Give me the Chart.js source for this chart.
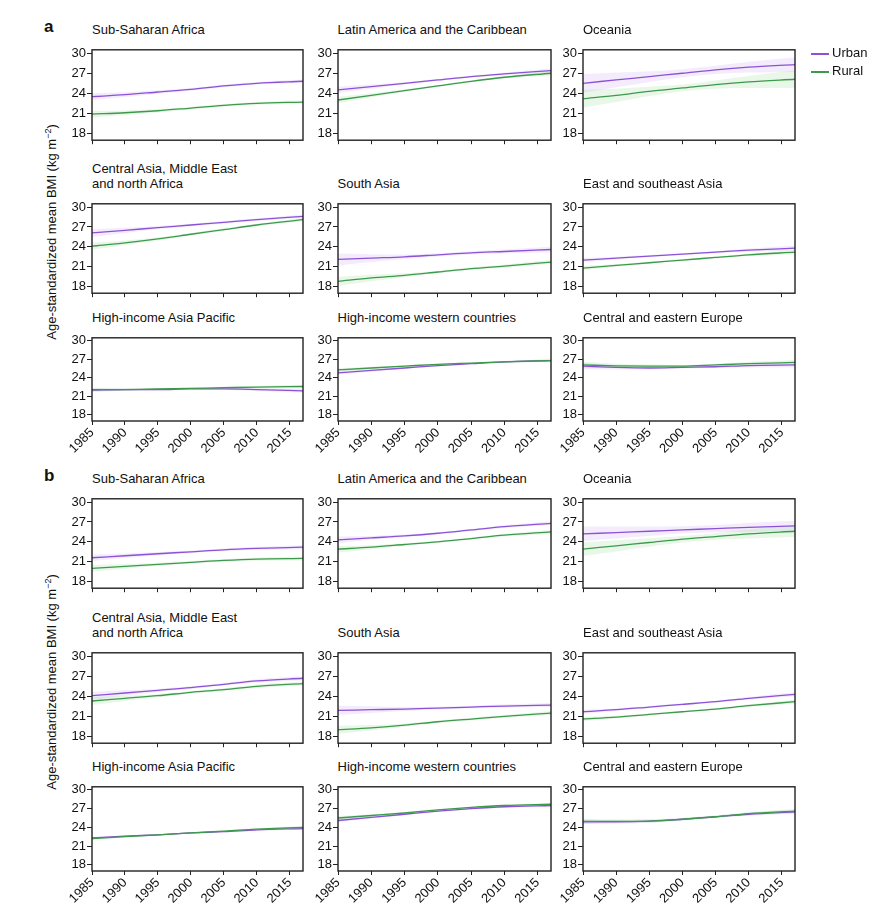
<!DOCTYPE html>
<html>
<head>
<meta charset="utf-8">
<script src="https://cdn.jsdelivr.net/npm/chart.js@4.4.0/dist/chart.umd.min.js"></script>
<style>
body { margin: 0; background: #fff; font-family: "Liberation Sans", Arial, sans-serif; color: #111; }
#wrap { position: relative; width: 887px; height: 909px; overflow: hidden; }
canvas { position: absolute; }
.ttl { position: absolute; font-size: 13px; line-height: 15px; white-space: pre; }
.letter { position: absolute; font-size: 17px; font-weight: bold; }
.ylab { position: absolute; font-size: 13px; white-space: nowrap; transform: translate(-50%, -50%) rotate(-90deg); }
.ylab sup { font-size: 9px; }
.leg { position: absolute; font-size: 13px; line-height: 16px; }
.leg span { display: inline-block; width: 18px; height: 0; border-top: 2px solid; vertical-align: middle; margin-right: 3px; }
</style>
</head>
<body>
<div id="wrap"></div>
<script>
var years = [1985, 1990, 1995, 2000, 2005, 2010, 2017];
var xTicks = [1985, 1990, 1995, 2000, 2005, 2010, 2015];
var yTicks = [18, 21, 24, 27, 30];
var regions = ["Sub-Saharan Africa", "Latin America and the Caribbean", "Oceania",
               "Central Asia, Middle East\nand north Africa", "South Asia", "East and southeast Asia",
               "High-income Asia Pacific", "High-income western countries", "Central and eastern Europe"];

// panel a
var urbanA = [
    [23.5, 23.8, 24.2, 24.6, 25.1, 25.5, 25.8],
    [24.5, 25.0, 25.5, 26.0, 26.5, 26.9, 27.4],
    [25.5, 26.0, 26.5, 27.0, 27.5, 27.9, 28.3],
    [26.1, 26.5, 26.9, 27.3, 27.7, 28.1, 28.6],
    [22.1, 22.3, 22.5, 22.8, 23.1, 23.3, 23.6],
    [22.0, 22.3, 22.6, 22.9, 23.2, 23.5, 23.8],
    [22.0, 22.1, 22.1, 22.2, 22.2, 22.1, 21.9],
    [24.8, 25.2, 25.6, 26.0, 26.3, 26.6, 26.8],
    [25.9, 25.7, 25.6, 25.7, 25.8, 26.0, 26.1]
];
var ruralA = [
    [20.9, 21.1, 21.4, 21.8, 22.2, 22.5, 22.7],
    [23.0, 23.7, 24.4, 25.1, 25.8, 26.4, 27.0],
    [23.2, 23.7, 24.3, 24.8, 25.3, 25.7, 26.1],
    [24.1, 24.6, 25.2, 25.9, 26.6, 27.3, 28.1],
    [18.8, 19.3, 19.7, 20.2, 20.7, 21.1, 21.7],
    [20.8, 21.2, 21.6, 22.0, 22.4, 22.8, 23.2],
    [22.1, 22.1, 22.2, 22.3, 22.4, 22.5, 22.6],
    [25.3, 25.6, 25.9, 26.2, 26.4, 26.6, 26.8],
    [26.1, 25.95, 25.9, 25.9, 26.1, 26.3, 26.5]
];
var urbanCiA = [
    [0.5, 0.35, 0.25, 0.2, 0.2, 0.2, 0.25],
    [0.5, 0.3, 0.2, 0.15, 0.15, 0.2, 0.3],
    [1.4, 1.1, 0.8, 0.6, 0.6, 0.8, 1.1],
    [0.6, 0.4, 0.25, 0.2, 0.2, 0.2, 0.25],
    [0.9, 0.6, 0.35, 0.25, 0.25, 0.3, 0.4],
    [0.3, 0.2, 0.15, 0.15, 0.15, 0.25, 0.4],
    [0.3, 0.2, 0.15, 0.15, 0.15, 0.2, 0.3],
    [0.3, 0.2, 0.15, 0.1, 0.1, 0.15, 0.2],
    [0.5, 0.35, 0.25, 0.2, 0.2, 0.3, 0.4]
];
var ruralCiA = [
    [0.5, 0.35, 0.25, 0.2, 0.2, 0.2, 0.25],
    [0.5, 0.3, 0.2, 0.15, 0.15, 0.2, 0.3],
    [1.35, 1.0, 0.7, 0.5, 0.6, 0.9, 1.3],
    [0.5, 0.35, 0.25, 0.2, 0.2, 0.2, 0.25],
    [0.7, 0.5, 0.3, 0.2, 0.2, 0.25, 0.3],
    [0.3, 0.2, 0.15, 0.15, 0.15, 0.2, 0.3],
    [0.3, 0.2, 0.15, 0.15, 0.15, 0.2, 0.3],
    [0.3, 0.2, 0.15, 0.1, 0.1, 0.15, 0.2],
    [0.5, 0.35, 0.25, 0.2, 0.2, 0.3, 0.4]
];

// panel b
var urbanB = [
    [21.6, 21.9, 22.2, 22.5, 22.8, 23.0, 23.2],
    [24.3, 24.6, 24.9, 25.3, 25.8, 26.3, 26.8],
    [25.2, 25.4, 25.6, 25.8, 26.0, 26.2, 26.4],
    [24.1, 24.5, 24.9, 25.3, 25.8, 26.3, 26.7],
    [21.9, 22.0, 22.1, 22.25, 22.4, 22.55, 22.7],
    [21.7, 22.0, 22.4, 22.8, 23.2, 23.7, 24.3],
    [22.3, 22.6, 22.8, 23.1, 23.3, 23.6, 23.8],
    [25.1, 25.6, 26.1, 26.6, 27.0, 27.3, 27.5],
    [24.9, 24.9, 25.0, 25.3, 25.7, 26.1, 26.5]
];
var ruralB = [
    [20.0, 20.3, 20.6, 20.9, 21.2, 21.4, 21.5],
    [22.9, 23.2, 23.6, 24.0, 24.5, 25.0, 25.5],
    [22.9, 23.4, 23.9, 24.4, 24.8, 25.2, 25.6],
    [23.3, 23.7, 24.1, 24.6, 25.0, 25.5, 25.9],
    [19.0, 19.3, 19.7, 20.2, 20.6, 21.0, 21.5],
    [20.6, 20.9, 21.3, 21.7, 22.1, 22.6, 23.2],
    [22.2, 22.5, 22.8, 23.1, 23.4, 23.7, 24.0],
    [25.5, 25.9, 26.3, 26.8, 27.2, 27.5, 27.7],
    [24.95, 24.95, 25.0, 25.3, 25.7, 26.2, 26.6]
];
var urbanCiB = [
    [0.5, 0.35, 0.25, 0.2, 0.2, 0.25, 0.3],
    [0.5, 0.3, 0.2, 0.15, 0.15, 0.2, 0.3],
    [1.1, 0.9, 0.7, 0.55, 0.55, 0.7, 0.8],
    [0.6, 0.4, 0.25, 0.2, 0.2, 0.25, 0.3],
    [0.7, 0.5, 0.3, 0.2, 0.2, 0.25, 0.3],
    [0.3, 0.2, 0.15, 0.15, 0.15, 0.2, 0.3],
    [0.2, 0.15, 0.1, 0.1, 0.1, 0.15, 0.2],
    [0.3, 0.2, 0.15, 0.1, 0.1, 0.15, 0.2],
    [0.4, 0.3, 0.25, 0.2, 0.2, 0.25, 0.35]
];
var ruralCiB = [
    [0.5, 0.35, 0.25, 0.2, 0.2, 0.25, 0.3],
    [0.5, 0.3, 0.2, 0.15, 0.15, 0.2, 0.3],
    [1.05, 0.85, 0.65, 0.5, 0.5, 0.7, 0.85],
    [0.6, 0.4, 0.25, 0.2, 0.2, 0.25, 0.3],
    [0.6, 0.4, 0.25, 0.2, 0.2, 0.2, 0.3],
    [0.3, 0.2, 0.15, 0.15, 0.15, 0.2, 0.3],
    [0.2, 0.15, 0.1, 0.1, 0.1, 0.15, 0.2],
    [0.3, 0.2, 0.15, 0.1, 0.1, 0.15, 0.2],
    [0.4, 0.3, 0.25, 0.2, 0.2, 0.25, 0.35]
];

// layout (plot-area edges in page pixels)
var colLeft = [92, 337.5, 583];
var colRight = [303, 550, 795];
var rowTopA = [43, 196.7, 331], rowBotA = [144, 296.7, 421];
var rowTopB = [492.3, 646, 780], rowBotB = [592.7, 746.7, 870.7];

var purple = "#8b52d6", green = "#3d9a4c";
var purpleBand = "rgba(200,160,240,0.2)", greenBand = "rgba(130,210,130,0.18)";
var Y_AXIS_W = 30, PAD_T = 2, PAD_R = 3;

Chart.defaults.font.family = '"Liberation Sans", Arial, sans-serif';
Chart.defaults.color = "#111";

var frame = {
    id: "frame",
    afterDatasetsDraw: function (chart) {
        var a = chart.chartArea, c = chart.ctx;
        c.save();
        c.strokeStyle = "#222";
        c.lineWidth = 1.4;
        c.strokeRect(a.left, a.top, a.right - a.left, a.bottom - a.top);
        c.restore();
    }
};

var wrap = document.getElementById("wrap");

function pts(vals, ci, sign) {
    return years.map(function (yr, k) { return { x: yr, y: vals[k] + sign * ci[k] }; });
}
function line(vals) {
    return years.map(function (yr, k) { return { x: yr, y: vals[k] }; });
}

function addText(cls, html, left, top) {
    var d = document.createElement("div");
    d.className = cls;
    d.innerHTML = html;
    d.style.left = left + "px";
    d.style.top = top + "px";
    wrap.appendChild(d);
    return d;
}

function makeChart(i, urban, rural, ciU, ciR, tops, bots) {
    var col = i % 3, row = Math.floor(i / 3);
    var bottomRow = row === 2;
    var xAxisH = bottomRow ? 42 : 5;
    var plotW = colRight[col] - colLeft[col];
    var plotH = bots[row] - tops[row];

    var cv = document.createElement("canvas");
    cv.width = Math.round(Y_AXIS_W + plotW + PAD_R);
    cv.height = Math.round(PAD_T + plotH + xAxisH);
    cv.style.left = (colLeft[col] - Y_AXIS_W) + "px";
    cv.style.top = (tops[row] - PAD_T) + "px";
    wrap.appendChild(cv);

    var lines = regions[i].split("\n").length;
    addText("ttl", regions[i], colLeft[col], tops[row] - 6 - lines * 15);

    var band = { borderWidth: 0, borderColor: "transparent", pointRadius: 0, cubicInterpolationMode: "monotone" };
    new Chart(cv, {
        type: "line",
        data: {
            datasets: [
                { data: line(rural), borderColor: green, borderWidth: 1.3, pointRadius: 0, fill: false, order: 0, cubicInterpolationMode: "monotone" },
                { data: line(urban), borderColor: purple, borderWidth: 1.3, pointRadius: 0, fill: false, order: 1, cubicInterpolationMode: "monotone" },
                Object.assign({ data: pts(urban, ciU, 1), fill: "+1", backgroundColor: purpleBand, order: 3 }, band),
                Object.assign({ data: pts(urban, ciU, -1), fill: false, order: 3 }, band),
                Object.assign({ data: pts(rural, ciR, 1), fill: "+1", backgroundColor: greenBand, order: 2 }, band),
                Object.assign({ data: pts(rural, ciR, -1), fill: false, order: 2 }, band)
            ]
        },
        options: {
            responsive: false,
            animation: false,
            events: [],
            layout: { padding: { top: PAD_T, right: PAD_R, left: 0, bottom: 0 } },
            plugins: { legend: { display: false }, tooltip: { enabled: false } },
            scales: {
                x: {
                    type: "linear", min: 1985, max: 2017,
                    afterBuildTicks: function (s) { s.ticks = xTicks.map(function (v) { return { value: v }; }); },
                    afterFit: function (s) { s.height = xAxisH; },
                    grid: { drawOnChartArea: false, drawTicks: true, tickLength: 4, color: "#222" },
                    border: { display: false },
                    ticks: {
                        display: bottomRow, autoSkip: false, maxRotation: 45, minRotation: 45, padding: 0,
                        font: { size: 13 }, color: "#111",
                        callback: function (v) { return String(v); }
                    }
                },
                y: {
                    min: 17, max: 30.5,
                    afterBuildTicks: function (s) { s.ticks = yTicks.map(function (v) { return { value: v }; }); },
                    afterFit: function (s) { s.width = Y_AXIS_W; },
                    grid: { drawOnChartArea: false, drawTicks: true, tickLength: 5, color: "#222" },
                    border: { display: false },
                    ticks: { padding: 1, font: { size: 13 }, color: "#111", callback: function (v) { return String(v); } }
                }
            }
        },
        plugins: [frame]
    });
}

for (var i = 0; i < 9; i++) {
    makeChart(i, urbanA[i], ruralA[i], urbanCiA[i], ruralCiA[i], rowTopA, rowBotA);
    makeChart(i, urbanB[i], ruralB[i], urbanCiB[i], ruralCiB[i], rowTopB, rowBotB);
}

addText("letter", "a", 44, 17);
addText("letter", "b", 44, 466);
var yl = "Age-standardized mean BMI (kg m<sup>\u22122</sup>)";
addText("ylab", yl, 51, 232);
addText("ylab", yl, 51, 682);
addText("leg", '<span style="border-color:' + purple + '"></span>Urban', 811, 45);
addText("leg", '<span style="border-color:' + green + '"></span>Rural', 811, 63);
</script>
</body>
</html>
